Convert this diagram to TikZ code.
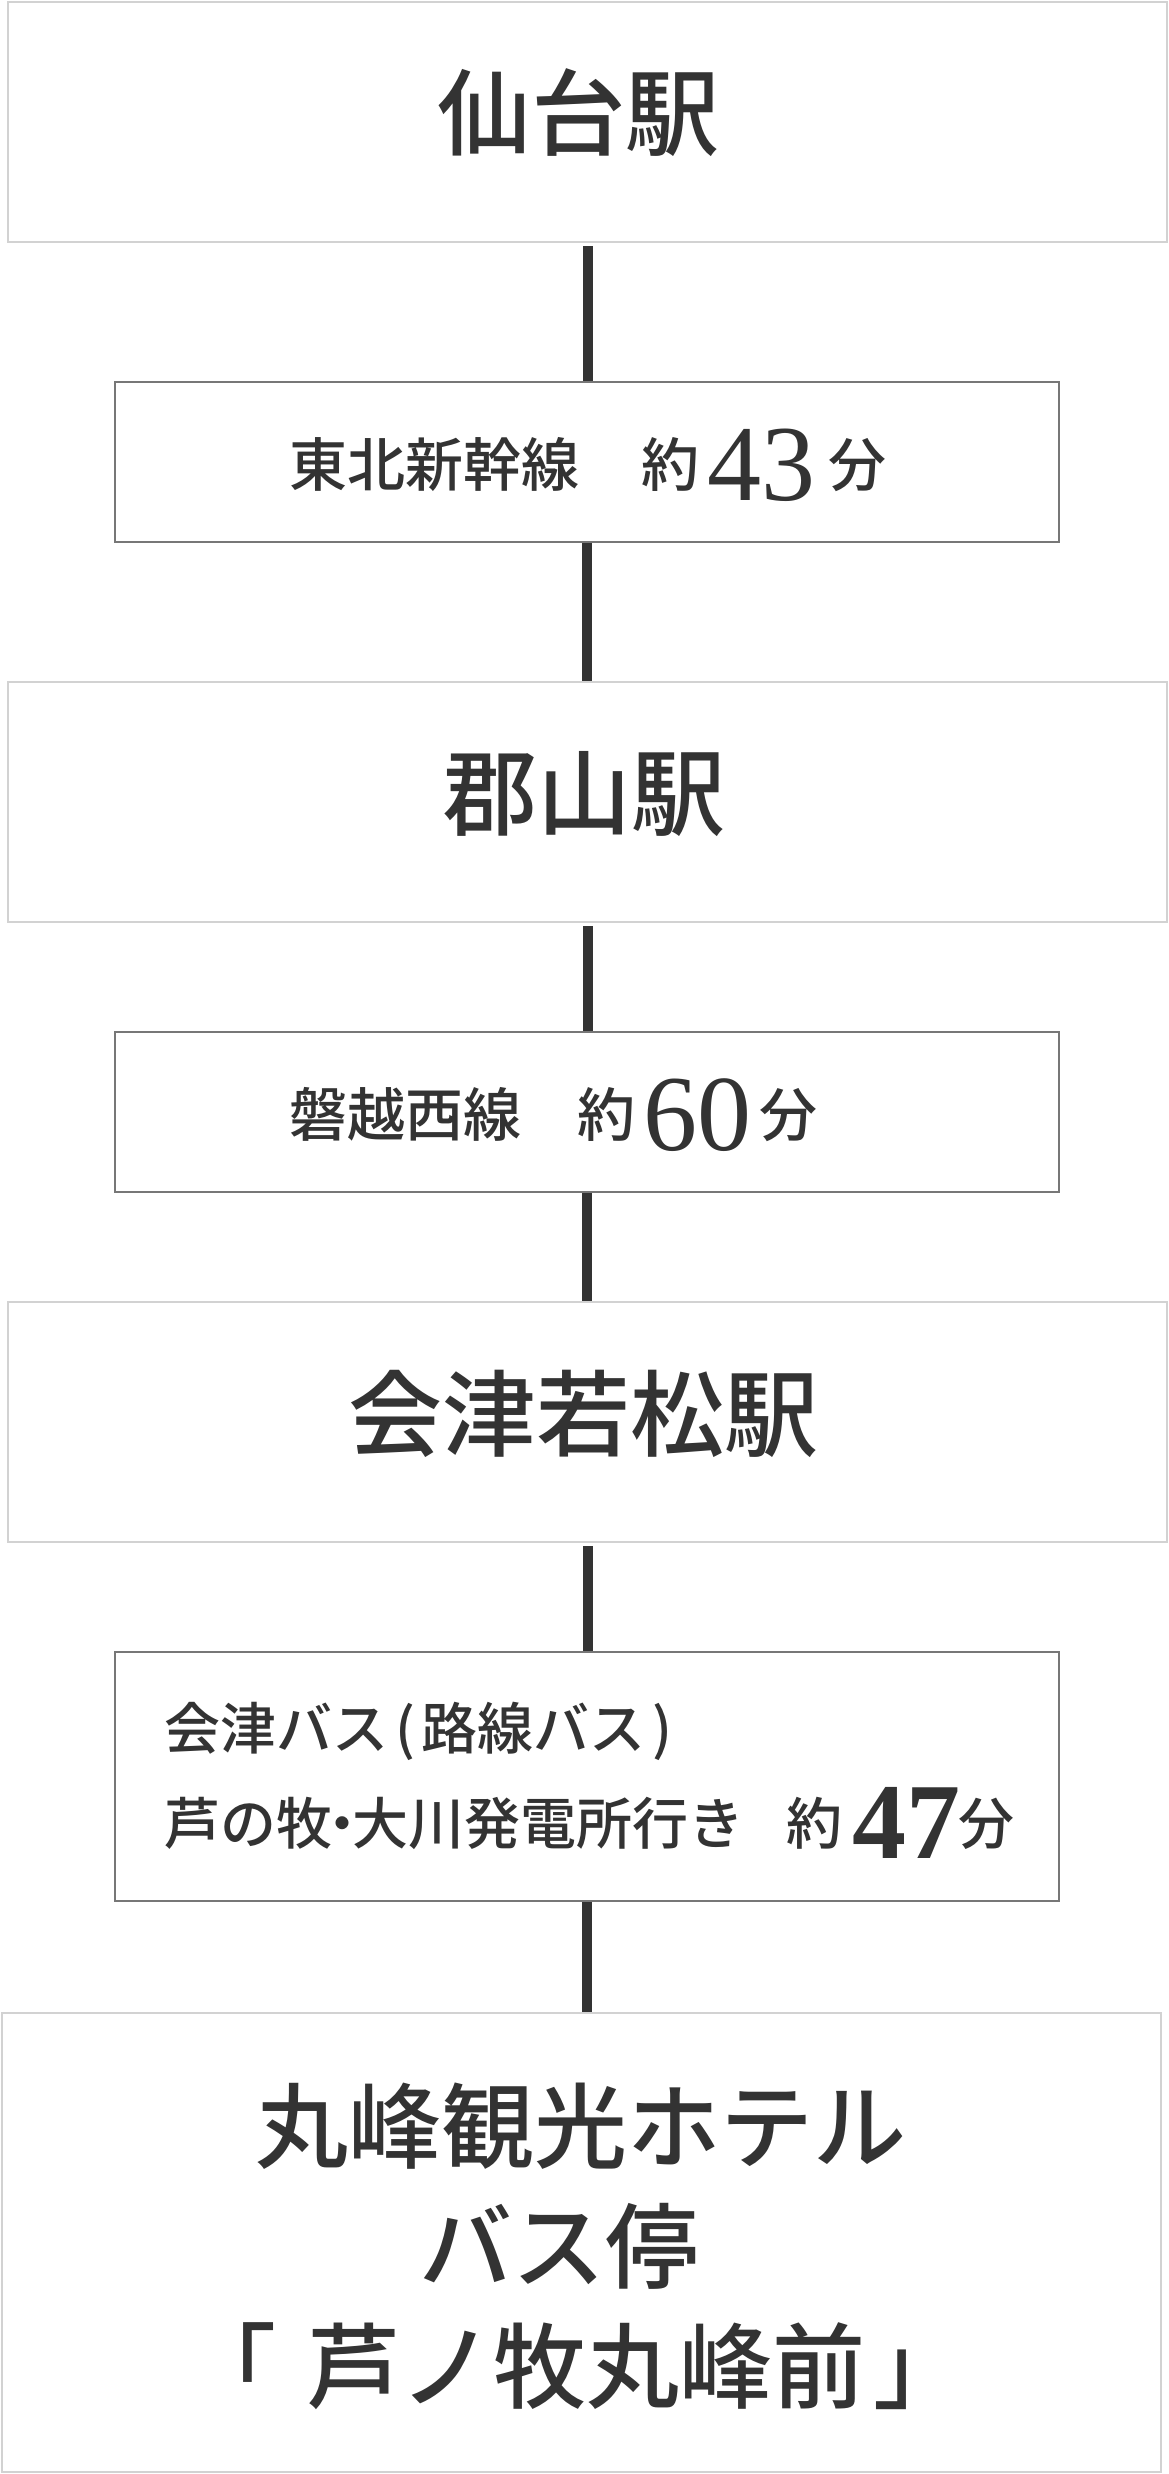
\documentclass[tikz,border=0pt]{standalone}
\usepackage{fontspec}
\usepackage{graphicx}
\newfontfamily\jp{Noto Sans CJK JP}[UprightFont={* Medium}]
\newfontfamily\dig{Liberation Serif}
\definecolor{ink}{HTML}{333333}
\definecolor{stationgray}{HTML}{D2D2D2}
\definecolor{routegray}{HTML}{777777}
\tikzset{
  station/.style={draw=stationgray, line width=2pt, minimum width=1159pt, minimum height=240pt, inner sep=0pt},
  route/.style={draw=routegray, line width=1.6pt, minimum width=944pt, inner sep=0pt},
  conn/.style={draw=ink, line width=10pt},
  lbl/.style={text=ink, inner sep=0pt, anchor=base},
  big/.style={lbl, font={\jp\fontsize{94}{94}\selectfont}},
  huge/.style={lbl, font={\jp\fontsize{93}{93}\selectfont}},
  small/.style={lbl, anchor=base west, font={\jp\fontsize{58}{58}\selectfont}},
  busf/.style={lbl, anchor=base west, font={\jp\fontsize{56}{56}\selectfont}}
}
\newcommand{\numA}[1]{\raisebox{-14pt}{\dig\fontsize{108}{108}\selectfont #1}}
\newcommand{\numB}[1]{\raisebox{-14pt}{\dig\bfseries\fontsize{108}{108}\selectfont #1}}
\begin{document}
\begin{tikzpicture}[x=1pt,y=-1pt]
\useasboundingbox (0,0) rectangle (1169,2474);
\fill[white] (0,0) rectangle (1169,2474);
% boxes
\node[station] (b1) at (587.5,122) {};
\node[route, minimum height=160pt] (b2) at (587,462) {};
\node[station] (b3) at (587.5,802) {};
\node[route, minimum height=160pt] (b4) at (587,1112) {};
\node[station] (b5) at (587.5,1422) {};
\node[route, minimum height=249pt] (b6) at (587,1776.5) {};
\node[station, minimum height=459pt] (b7) at (581.5,2242.5) {};
% connectors
\draw[conn] ([yshift=-3pt]b1.south) -- (b1.south |- b2.north);
\draw[conn] (b2.south) -- (b2.south |- b3.north);
\draw[conn] ([yshift=-3pt]b3.south) -- (b3.south |- b4.north);
\draw[conn] (b4.south) -- (b4.south |- b5.north);
\draw[conn] ([yshift=-3pt]b5.south) -- (b5.south |- b6.north);
\draw[conn] (b6.south) -- (b6.south |- b7.north);
% station labels
\node[big] (t1) at (578,148) {仙台駅};
\node[big] (t3) at (584.5,828) {郡山駅};
\node[big] (t5) at (583.5,1449) {会津若松駅};
% route labels
\node[small] (t2) at (289,486) {東北新幹線\hspace{62pt}約\kern8pt\numA{43}\kern13pt 分};
\node[small] (t4) at (289,1136) {磐越西線\hspace{56pt}約\kern8pt\numA{60}\kern8pt 分};
\node[busf] (t6a) at (164,1749) {会津バス\kern7pt(\kern6pt 路線バス\kern7pt)};
\node[busf] (t6b) at (164,1844) {芦の牧\kern-18pt・\kern-18pt 大川発電所行き\hspace{42pt}約\kern10pt\numB{47}\kern-2pt 分};
% destination
\node[huge] (t7a) at (580.5,2161) {丸峰観光ホテル};
\node[huge] (t7b) at (559,2281) {バス停};
\node[huge, anchor=base west] (t7c) at (183,2401) {「\kern31pt 芦ノ牧丸峰前\kern8pt 」};
\end{tikzpicture}
\end{document}
